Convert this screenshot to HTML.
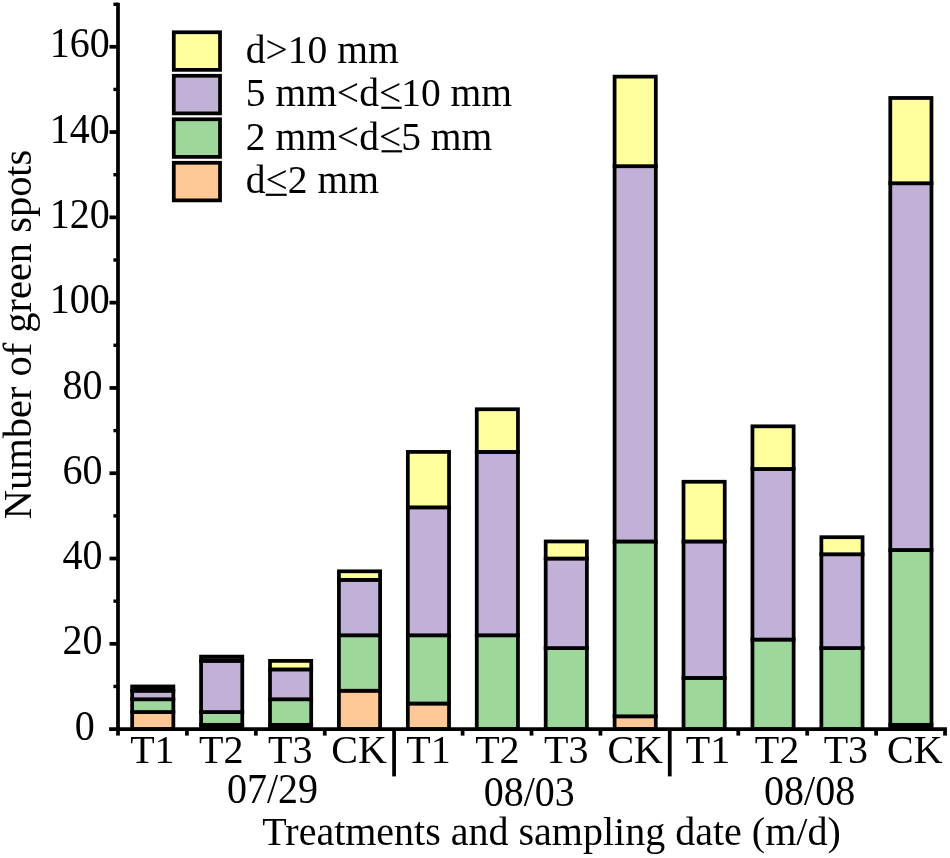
<!DOCTYPE html>
<html><head><meta charset="utf-8"><title>chart</title>
<style>
html,body{margin:0;padding:0;background:#fff;}
body{width:950px;height:858px;overflow:hidden;}
svg{display:block;will-change:transform;}
text{font-family:"Liberation Serif",serif;font-size:40px;fill:#000;}
</style></head><body>
<svg width="950" height="858" viewBox="0 0 950 858">
<rect x="0" y="0" width="950" height="858" fill="#fff"/>

<g stroke="#000" stroke-width="3.75" stroke-linejoin="miter">
<rect x="132.16" y="712.04" width="41.20" height="17.06" fill="#FDC896"/>
<rect x="132.16" y="699.25" width="41.20" height="12.79" fill="#9DD79B"/>
<rect x="132.16" y="690.72" width="41.20" height="8.53" fill="#C2B1D7"/>
<rect x="132.16" y="686.46" width="41.20" height="4.26" fill="#000"/>
<rect x="201.08" y="724.84" width="41.20" height="4.26" fill="#000"/>
<rect x="201.08" y="712.04" width="41.20" height="12.79" fill="#9DD79B"/>
<rect x="201.08" y="660.87" width="41.20" height="51.17" fill="#C2B1D7"/>
<rect x="201.08" y="656.60" width="41.20" height="4.26" fill="#33331a"/>
<rect x="270.00" y="724.84" width="41.20" height="4.26" fill="#000"/>
<rect x="270.00" y="699.25" width="41.20" height="25.59" fill="#9DD79B"/>
<rect x="270.00" y="669.40" width="41.20" height="29.85" fill="#C2B1D7"/>
<rect x="270.00" y="660.87" width="41.20" height="8.53" fill="#FFFF9E"/>
<rect x="338.92" y="690.72" width="41.20" height="38.38" fill="#FDC896"/>
<rect x="338.92" y="635.28" width="41.20" height="55.44" fill="#9DD79B"/>
<rect x="338.92" y="579.84" width="41.20" height="55.44" fill="#C2B1D7"/>
<rect x="338.92" y="571.31" width="41.20" height="8.53" fill="#FFFF9E"/>
<rect x="407.84" y="703.51" width="41.20" height="25.59" fill="#FDC896"/>
<rect x="407.84" y="635.28" width="41.20" height="68.23" fill="#9DD79B"/>
<rect x="407.84" y="507.35" width="41.20" height="127.94" fill="#C2B1D7"/>
<rect x="407.84" y="451.91" width="41.20" height="55.44" fill="#FFFF9E"/>
<rect x="476.76" y="635.28" width="41.20" height="93.82" fill="#9DD79B"/>
<rect x="476.76" y="451.91" width="41.20" height="183.37" fill="#C2B1D7"/>
<rect x="476.76" y="409.26" width="41.20" height="42.64" fill="#FFFF9E"/>
<rect x="545.68" y="648.07" width="41.20" height="81.03" fill="#9DD79B"/>
<rect x="545.68" y="558.52" width="41.20" height="89.55" fill="#C2B1D7"/>
<rect x="545.68" y="541.46" width="41.20" height="17.06" fill="#FFFF9E"/>
<rect x="614.60" y="716.31" width="41.20" height="12.79" fill="#FDC896"/>
<rect x="614.60" y="541.46" width="41.20" height="174.84" fill="#9DD79B"/>
<rect x="614.60" y="166.19" width="41.20" height="375.28" fill="#C2B1D7"/>
<rect x="614.60" y="76.63" width="41.20" height="89.55" fill="#FFFF9E"/>
<rect x="683.52" y="677.93" width="41.20" height="51.17" fill="#9DD79B"/>
<rect x="683.52" y="541.46" width="41.20" height="136.46" fill="#C2B1D7"/>
<rect x="683.52" y="481.76" width="41.20" height="59.70" fill="#FFFF9E"/>
<rect x="752.44" y="639.55" width="41.20" height="89.55" fill="#9DD79B"/>
<rect x="752.44" y="468.97" width="41.20" height="170.58" fill="#C2B1D7"/>
<rect x="752.44" y="426.32" width="41.20" height="42.64" fill="#FFFF9E"/>
<rect x="821.36" y="648.07" width="41.20" height="81.03" fill="#9DD79B"/>
<rect x="821.36" y="554.26" width="41.20" height="93.82" fill="#C2B1D7"/>
<rect x="821.36" y="537.20" width="41.20" height="17.06" fill="#FFFF9E"/>
<rect x="890.28" y="724.84" width="41.20" height="4.26" fill="#000"/>
<rect x="890.28" y="549.99" width="41.20" height="174.84" fill="#9DD79B"/>
<rect x="890.28" y="183.24" width="41.20" height="366.75" fill="#C2B1D7"/>
<rect x="890.28" y="97.95" width="41.20" height="85.29" fill="#FFFF9E"/>
</g>
<g stroke="#000" stroke-width="3.75" fill="none">
<line x1="118" y1="2.8" x2="118" y2="730.975"/>
<line x1="109.1" y1="729.1" x2="946.9" y2="729.1"/>
<line x1="109.5" y1="643.81" x2="118" y2="643.81"/>
<line x1="109.5" y1="558.52" x2="118" y2="558.52"/>
<line x1="109.5" y1="473.23" x2="118" y2="473.23"/>
<line x1="109.5" y1="387.94" x2="118" y2="387.94"/>
<line x1="109.5" y1="302.65" x2="118" y2="302.65"/>
<line x1="109.5" y1="217.36" x2="118" y2="217.36"/>
<line x1="109.5" y1="132.07" x2="118" y2="132.07"/>
<line x1="109.5" y1="46.78" x2="118" y2="46.78"/>
</g>
<g stroke="#000" stroke-width="3.4" fill="none">
<line x1="113.4" y1="686.46" x2="118" y2="686.46"/>
<line x1="113.4" y1="601.16" x2="118" y2="601.16"/>
<line x1="113.4" y1="515.88" x2="118" y2="515.88"/>
<line x1="113.4" y1="430.59" x2="118" y2="430.59"/>
<line x1="113.4" y1="345.30" x2="118" y2="345.30"/>
<line x1="113.4" y1="260.01" x2="118" y2="260.01"/>
<line x1="113.4" y1="174.72" x2="118" y2="174.72"/>
<line x1="113.4" y1="89.43" x2="118" y2="89.43"/>
<line x1="113.4" y1="4.30" x2="118" y2="4.30"/>
</g>
<g stroke="#000" stroke-width="3.75" fill="none">
<line x1="118.00" y1="729.1" x2="118.00" y2="735.6"/>
<line x1="186.92" y1="729.1" x2="186.92" y2="735.6"/>
<line x1="255.84" y1="729.1" x2="255.84" y2="735.6"/>
<line x1="324.76" y1="729.1" x2="324.76" y2="735.6"/>
<line x1="394.08" y1="729.1" x2="394.08" y2="776.4"/>
<line x1="462.60" y1="729.1" x2="462.60" y2="735.6"/>
<line x1="531.52" y1="729.1" x2="531.52" y2="735.6"/>
<line x1="600.44" y1="729.1" x2="600.44" y2="735.6"/>
<line x1="669.76" y1="729.1" x2="669.76" y2="776.4"/>
<line x1="738.28" y1="729.1" x2="738.28" y2="735.6"/>
<line x1="807.20" y1="729.1" x2="807.20" y2="735.6"/>
<line x1="876.12" y1="729.1" x2="876.12" y2="735.6"/>
<line x1="945.04" y1="729.1" x2="945.04" y2="735.6"/>
</g>
<text transform="translate(94.80,739.70) scale(1,1.06)" text-anchor="end">0</text>
<text transform="translate(102.55,654.41) scale(1,1.06)" text-anchor="end">20</text>
<text transform="translate(102.55,569.12) scale(1,1.06)" text-anchor="end">40</text>
<text transform="translate(102.55,483.83) scale(1,1.06)" text-anchor="end">60</text>
<text transform="translate(102.55,398.54) scale(1,1.06)" text-anchor="end">80</text>
<text transform="translate(109.80,313.25) scale(1,1.06)" text-anchor="end">100</text>
<text transform="translate(109.80,227.96) scale(1,1.06)" text-anchor="end">120</text>
<text transform="translate(109.80,142.67) scale(1,1.06)" text-anchor="end">140</text>
<text transform="translate(109.80,57.38) scale(1,1.06)" text-anchor="end">160</text>
<text x="152.36" y="763.4" text-anchor="middle">T1</text>
<text x="221.28" y="763.4" text-anchor="middle">T2</text>
<text x="290.20" y="763.4" text-anchor="middle">T3</text>
<text x="359.12" y="763.4" text-anchor="middle">CK</text>
<text x="428.44" y="763.4" text-anchor="middle">T1</text>
<text x="497.36" y="763.4" text-anchor="middle">T2</text>
<text x="566.28" y="763.4" text-anchor="middle">T3</text>
<text x="635.20" y="763.4" text-anchor="middle">CK</text>
<text x="708.02" y="763.4" text-anchor="middle">T1</text>
<text x="776.94" y="763.4" text-anchor="middle">T2</text>
<text x="845.86" y="763.4" text-anchor="middle">T3</text>
<text x="914.78" y="763.4" text-anchor="middle">CK</text>
<text transform="translate(272.50,802.60) scale(1,1.06)" text-anchor="middle">07/29</text>
<text transform="translate(529.30,806.10) scale(1,1.06)" text-anchor="middle">08/03</text>
<text transform="translate(809.60,804.50) scale(1,1.06)" text-anchor="middle">08/08</text>
<text x="551.5" y="845" text-anchor="middle">Treatments and sampling date (m/d)</text>
<text transform="translate(31.3,334.4) rotate(-90)" text-anchor="middle" style="font-size:40.45px">Number of green spots</text>
<rect x="173.78" y="32.27" width="46.25" height="37.60" fill="#FFFF9E" stroke="#000" stroke-width="3.75"/>
<text x="245.8" y="62.80" style="font-size:39.5px">d&gt;10 mm</text>
<rect x="173.78" y="75.78" width="46.25" height="37.60" fill="#C2B1D7" stroke="#000" stroke-width="3.75"/>
<text x="245.8" y="106.30" style="font-size:39.5px">5 mm&lt;d&lt;10 mm</text>
<line x1="381.30" y1="107.80" x2="401.70" y2="107.80" stroke="#000" stroke-width="2.2"/>
<rect x="173.78" y="119.28" width="46.25" height="37.60" fill="#9DD79B" stroke="#000" stroke-width="3.75"/>
<text x="245.8" y="149.80" style="font-size:39.5px">2 mm&lt;d&lt;5 mm</text>
<line x1="381.50" y1="151.30" x2="402.10" y2="151.30" stroke="#000" stroke-width="2.2"/>
<rect x="173.78" y="162.78" width="46.25" height="37.60" fill="#FDC896" stroke="#000" stroke-width="3.75"/>
<text x="245.8" y="193.30" style="font-size:39.5px">d&lt;2 mm</text>
<line x1="265.70" y1="194.80" x2="286.70" y2="194.80" stroke="#000" stroke-width="2.2"/>
</svg></body></html>
